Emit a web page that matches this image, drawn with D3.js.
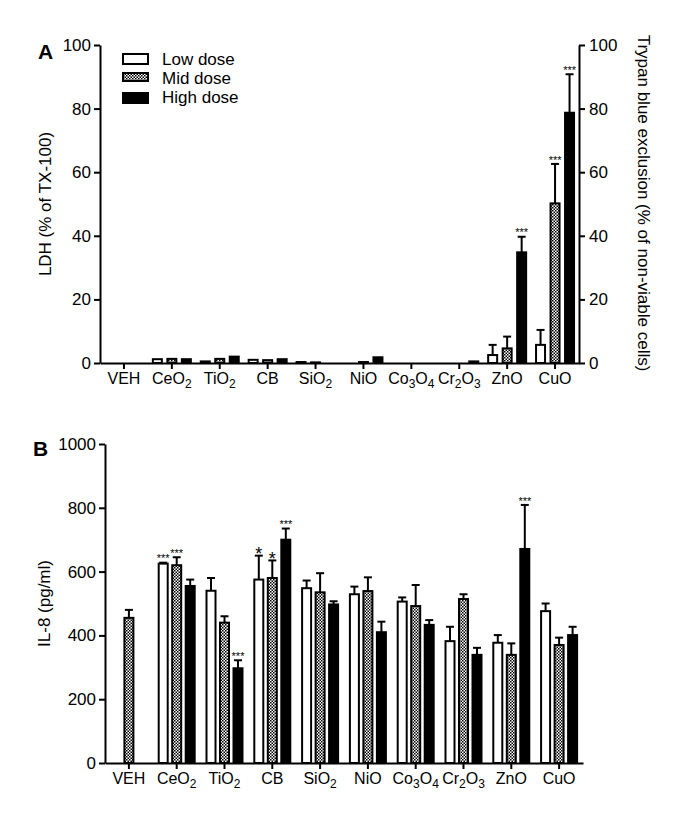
<!DOCTYPE html>
<html>
<head>
<meta charset="utf-8">
<script src="https://cdn.jsdelivr.net/npm/d3@7/dist/d3.min.js"></script>
<style>
  html, body { margin: 0; padding: 0; background: #fff; }
  svg { display: block; font-family: "Liberation Sans", Arial, sans-serif; }
</style>
</head>
<body>
<svg id="chart" width="685" height="820"></svg>
<script>
// ---------------- DATA ----------------
const categories = ["VEH", "CeO2", "TiO2", "CB", "SiO2", "NiO", "Co3O4", "Cr2O3", "ZnO", "CuO"];
const doses = ["Low dose", "Mid dose", "High dose"];

// Panel A: LDH / Trypan blue (% ), mean and error (SD)
const ldhLow  = [0, 1.2, 0.5, 1.0, 0.3, 0.0, 0, 0.0, 2.5, 5.7];
const ldhMid  = [0, 1.3, 1.3, 0.9, 0.2, 0.3, 0, 0.0, 4.6, 50.2];
const ldhHigh = [0, 1.2, 2.0, 1.2, 0.0, 1.8, 0, 0.5, 34.8, 78.7];
const ldhLowErr  = [0, 0, 0, 0, 0, 0, 0, 0, 3.2, 4.7];
const ldhMidErr  = [0, 0, 0, 0, 0, 0, 0, 0, 3.7, 12.4];
const ldhHighErr = [0, 0, 0, 0, 0, 0, 0, 0, 4.9, 12.1];
const ldhStars = [["ZnO", 2, "***"], ["CuO", 1, "***"], ["CuO", 2, "***"]];
const ldhTicks = [0, 20, 40, 60, 80, 100];

// Panel B: IL-8 (pg/ml)
const il8Low  = [null, 625, 540, 575, 548, 529, 506, 382, 377, 476];
const il8Mid  = [455, 620, 440, 580, 535, 539, 492, 514, 339, 370];
const il8High = [null, 555, 297, 700, 497, 410, 433, 339, 671, 401];
const il8LowErr  = [0, 3, 40, 75, 24, 24, 13, 45, 24, 24];
const il8MidErr  = [25, 25, 20, 55, 60, 43, 66, 15, 36, 23];
const il8HighErr = [0, 20, 25, 35, 10, 33, 15, 22, 138, 26];
const il8Stars = [["CeO2", 0, "***"], ["CeO2", 1, "***"], ["TiO2", 2, "***"],
                  ["CB", 0, "*"], ["CB", 1, "*"], ["CB", 2, "***"], ["ZnO", 2, "***"]];
const il8Ticks = [0, 200, 400, 600, 800, 1000];

// ---------------- DRAW ----------------
const svg = d3.select("#chart");
const defs = svg.append("defs");
const pat = defs.append("pattern").attr("id", "check")
  .attr("patternUnits", "userSpaceOnUse").attr("width", 3).attr("height", 3);
pat.append("rect").attr("width", 3).attr("height", 3).attr("fill", "#fff");
pat.append("rect").attr("width", 1.5).attr("height", 1.5).attr("fill", "#000");
pat.append("rect").attr("x", 1.5).attr("y", 1.5).attr("width", 1.5).attr("height", 1.5).attr("fill", "#000");

const fills = ["#fff", "url(#check)", "#000"];

function labelTspans(sel, name) {
  const parts = name.match(/[A-Za-z]+|\d+/g);
  if (name === "VEH" || name === "CB") { sel.text(name); return; }
  let sub = false;
  parts.forEach(p => {
    const isDigit = /^\d+$/.test(p);
    const t = sel.append("tspan").text(p);
    if (isDigit) {
      t.attr("font-size", "12px").attr("dy", sub ? 0 : 4);
      sub = true;
    } else {
      if (sub) t.attr("dy", -4);
      sub = false;
    }
  });
}

function panel(opts) {
  const g = svg.append("g");
  const x = d3.scaleBand().domain(categories).range(opts.xRange).padding(0);
  const y = d3.scaleLinear().domain(opts.yDomain).range(opts.yRange);
  const series = [opts.low, opts.mid, opts.high];
  const errs = [opts.lowErr, opts.midErr, opts.highErr];
  const off = d3.scaleLinear().domain([0, 2]).range([-opts.step, opts.step]);

  series.forEach((vals, s) => {
    const data = categories.map((c, i) => ({c, i, v: vals[i], e: errs[s][i]})).filter(d => d.v !== null);
    const bx = d => x(d.c) + x.bandwidth() / 2 + off(s) - opts.barW / 2;
    data.filter(d => d.e > 0).forEach(d => {
      const cx = x(d.c) + x.bandwidth() / 2 + off(s);
      g.append("line").attr("x1", cx).attr("x2", cx)
        .attr("y1", y(d.v)).attr("y2", y(d.v + d.e))
        .attr("stroke", "#000").attr("stroke-width", 2);
      g.append("line").attr("x1", cx - 4).attr("x2", cx + 4)
        .attr("y1", y(d.v + d.e)).attr("y2", y(d.v + d.e))
        .attr("stroke", "#000").attr("stroke-width", 2);
    });
    g.selectAll(null).data(data).enter().append("rect")
      .attr("x", bx)
      .attr("y", d => y(d.v))
      .attr("width", opts.barW)
      .attr("height", d => y(0) - y(d.v))
      .attr("fill", fills[s])
      .attr("stroke", "#000")
      .attr("stroke-width", 2);
  });

  opts.stars.forEach(([c, s, txt]) => {
    const i = categories.indexOf(c);
    const top = y(series[s][i] + errs[s][i]);
    const cx = x(c) + x.bandwidth() / 2 + off(s);
    const fs = txt === "*" ? 18 : 11;
    const gap = txt === "*" ? 3 : 5;
    g.append("text").attr("x", cx).attr("y", top - gap + 0.43 * fs)
      .attr("text-anchor", "middle").attr("font-size", fs + "px").attr("fill", "#000").text(txt);
  });

  const fmt = d3.format("d");
  const yAxis = d3.axisLeft(y).tickValues(opts.ticks).tickFormat(fmt).tickSize(6).tickSizeOuter(0).tickPadding(3);
  const ga = g.append("g").attr("transform", `translate(${opts.xRange[0]},0)`).call(yAxis);
  ga.selectAll("text").attr("font-size", "17px").attr("fill", "#000").attr("font-family", "Liberation Sans, Arial, sans-serif");
  ga.selectAll("line,path").attr("stroke", "#000").attr("stroke-width", 2);

  if (opts.right) {
    const yr = d3.axisRight(y).tickValues(opts.ticks).tickFormat(fmt).tickSize(6).tickSizeOuter(0).tickPadding(4);
    const gr = g.append("g").attr("transform", `translate(${opts.xRange[1]},0)`).call(yr);
    gr.selectAll("text").attr("font-size", "17px").attr("fill", "#000").attr("font-family", "Liberation Sans, Arial, sans-serif");
    gr.selectAll("line,path").attr("stroke", "#000").attr("stroke-width", 2);
  }

  const xAxis = d3.axisBottom(x).tickSize(6).tickSizeOuter(0).tickFormat("");
  const gx = g.append("g").attr("transform", `translate(0,${y(0)})`).call(xAxis);
  gx.selectAll("line,path").attr("stroke", "#000").attr("stroke-width", 2);
  categories.forEach(c => {
    const t = g.append("text").attr("x", x(c) + x.bandwidth() / 2).attr("y", y(0) + 21)
      .attr("text-anchor", "middle").attr("font-size", "16px");
    labelTspans(t, c);
  });

  g.append("text").attr("transform", `translate(${opts.titleX},${(opts.yRange[0] + opts.yRange[1]) / 2}) rotate(-90)`)
    .attr("text-anchor", "middle").attr("font-size", "17px").text(opts.title);
  if (opts.right) {
    g.append("text").attr("transform", `translate(${opts.rightTitleX},${opts.rightTitleY}) rotate(90)`)
      .attr("text-anchor", "middle").attr("font-size", "17px").text(opts.rightTitle);
  }
  g.append("text").attr("x", opts.labelX).attr("y", opts.labelY)
    .attr("font-size", "21px").attr("font-weight", "bold").text(opts.label);
  return {x, y};
}

panel({
  xRange: [100, 579], yDomain: [0, 100], yRange: [363, 45],
  low: ldhLow, mid: ldhMid, high: ldhHigh,
  lowErr: ldhLowErr, midErr: ldhMidErr, highErr: ldhHighErr,
  stars: ldhStars, ticks: ldhTicks, step: 14.5, barW: 9,
  right: true, title: "LDH (% of TX-100)", titleX: 51,
  rightTitle: "Trypan blue exclusion (% of non-viable cells)", rightTitleX: 638, rightTitleY: 203,
  label: "A", labelX: 38, labelY: 59
});

panel({
  xRange: [105, 583], yDomain: [0, 1000], yRange: [763, 444],
  low: il8Low, mid: il8Mid, high: il8High,
  lowErr: il8LowErr, midErr: il8MidErr, highErr: il8HighErr,
  stars: il8Stars, ticks: il8Ticks, step: 13.5, barW: 9,
  right: false, title: "IL-8 (pg/ml)", titleX: 50,
  label: "B", labelX: 33, labelY: 456
});

const lg = svg.append("g");
doses.forEach((d, i) => {
  const yTop = [54, 73, 93][i];
  lg.append("rect").attr("x", 123).attr("y", yTop).attr("width", 25).attr("height", i === 1 ? 8 : 10)
    .attr("fill", fills[i]).attr("stroke", "#000").attr("stroke-width", 2);
  lg.append("text").attr("x", 162).attr("y", [65, 84, 103][i]).attr("font-size", "17px").text(d);
});
</script>
</body>
</html>
